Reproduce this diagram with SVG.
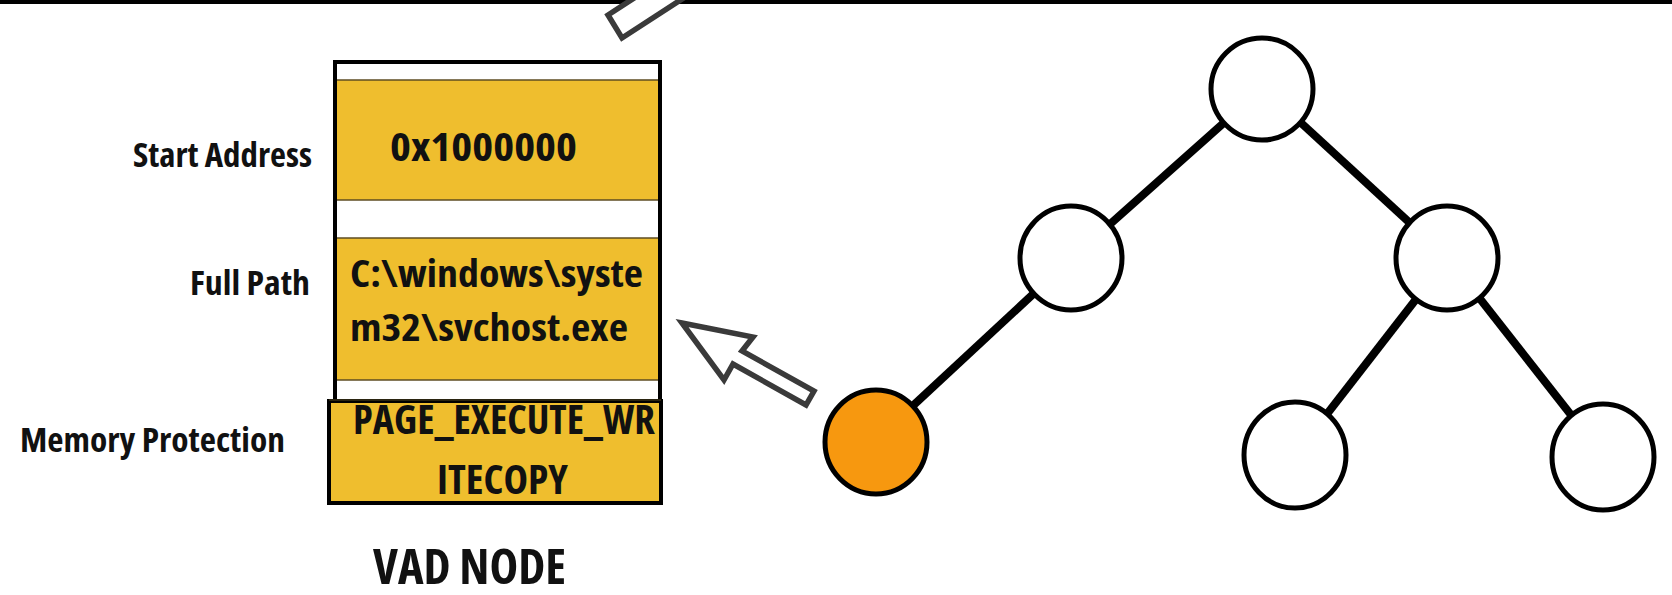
<svg xmlns="http://www.w3.org/2000/svg" width="1672" height="595" viewBox="0 0 1672 595">
  <defs>
    <style>
      .lbl { font-family: "Open Sans", "Liberation Sans", sans-serif; font-weight: 700; font-stretch: condensed; fill: #111; }
      .gold { fill: #EFBE2E; }
      .sep { stroke: #5e4d22; stroke-width: 1.5; }
      .hollow { fill: #fff; stroke: #3a3a3a; stroke-width: 5.5; stroke-linejoin: miter; }
      .edge { stroke: #000; stroke-width: 8; }
      .tnode { fill: #fff; stroke: #000; stroke-width: 5; }
    </style>
  </defs>

  <rect width="1672" height="595" fill="#fff"/>

  <!-- rule along the top edge -->
  <rect x="0" y="0" width="1672" height="4" fill="#000"/>

  <!-- tail of an arrow leaving the top edge -->
  <g id="arrow-top">
    <polygon class="hollow" points="608,15 622,38 699,-12 685,-35"/>
  </g>

  <!-- VAD node record -->
  <g id="vad-node">
    <rect x="335" y="62" width="325" height="340" fill="#fff" stroke="#000" stroke-width="4"/>
    <rect class="gold" x="337" y="80" width="321" height="120"/>
    <line class="sep" x1="337" y1="80" x2="658" y2="80"/>
    <line class="sep" x1="337" y1="200" x2="658" y2="200"/>
    <rect class="gold" x="337" y="238" width="321" height="142"/>
    <line class="sep" x1="337" y1="238" x2="658" y2="238"/>
    <line class="sep" x1="337" y1="380" x2="658" y2="380"/>
    <rect class="gold" x="329" y="401" width="332" height="102" stroke="#000" stroke-width="4"/>
    <line x1="329" y1="400" x2="661" y2="400" stroke="#2a2410" stroke-width="2"/>

    <text class="lbl" x="390" y="161" font-size="40" textLength="187" lengthAdjust="spacingAndGlyphs">0x1000000</text>
    <text class="lbl" x="350" y="287" font-size="38" textLength="293" lengthAdjust="spacingAndGlyphs">C:\windows\syste</text>
    <text class="lbl" x="350" y="341" font-size="38" textLength="278" lengthAdjust="spacingAndGlyphs">m32\svchost.exe</text>
    <text class="lbl" x="353" y="434" font-size="41" textLength="302" lengthAdjust="spacingAndGlyphs">PAGE_EXECUTE_WR</text>
    <text class="lbl" x="437" y="494" font-size="41" textLength="131" lengthAdjust="spacingAndGlyphs">ITECOPY</text>
  </g>

  <g id="field-labels">
    <text class="lbl" x="133" y="167" font-size="33" textLength="179" lengthAdjust="spacingAndGlyphs">Start Address</text>
    <text class="lbl" x="190" y="295" font-size="33" textLength="120" lengthAdjust="spacingAndGlyphs">Full Path</text>
    <text class="lbl" x="20" y="452" font-size="33" textLength="265" lengthAdjust="spacingAndGlyphs">Memory Protection</text>
  </g>

  <g id="caption">
    <text class="lbl" x="373" y="584" font-size="48" textLength="193" lengthAdjust="spacingAndGlyphs">VAD NODE</text>
  </g>

  <!-- hollow arrow from the highlighted tree node to the record -->
  <g id="arrow-link">
    <polygon class="hollow" points="682,323 753,337 742,351 814,391 806,405 733,364 724,380"/>
  </g>

  <!-- tree edges -->
  <g id="edges">
    <line class="edge" x1="1263" y1="88" x2="1072" y2="258"/>
    <line class="edge" x1="1263" y1="88" x2="1448" y2="258"/>
    <line class="edge" x1="1072" y1="258" x2="876" y2="440"/>
    <line class="edge" x1="1448" y1="258" x2="1296" y2="454"/>
    <line class="edge" x1="1448" y1="258" x2="1604" y2="457"/>
  </g>

  <!-- tree nodes -->
  <g id="node-root"><ellipse class="tnode" cx="1262" cy="89" rx="51" ry="51"/></g>
  <g id="node-left"><ellipse class="tnode" cx="1071" cy="258" rx="51" ry="52"/></g>
  <g id="node-right"><ellipse class="tnode" cx="1447" cy="258" rx="51" ry="52"/></g>
  <g id="node-selected"><ellipse cx="876" cy="442" rx="51" ry="52" fill="#F7980F" stroke="#000" stroke-width="5"/></g>
  <g id="node-right-left"><ellipse class="tnode" cx="1295" cy="455" rx="51" ry="53"/></g>
  <g id="node-right-right"><ellipse class="tnode" cx="1603" cy="457" rx="51" ry="53"/></g>
</svg>
